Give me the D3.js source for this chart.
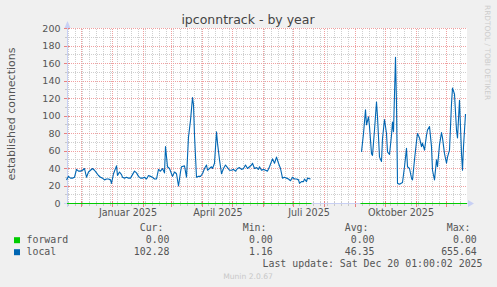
<!DOCTYPE html>
<html><head><meta charset="utf-8">
<script src="https://cdn.jsdelivr.net/npm/d3@7"></script>
<style>body{margin:0;background:#f0f0f0}svg{display:block}</style>
</head><body>
<script>
const title = "ipconntrack - by year";
const yLabel = "established connections";
const yTicks = [0, 20, 40, 60, 80, 100, 120, 140, 160, 180, 200];
const yMinorTicks = [10, 30, 50, 70, 90, 110, 130, 150, 170, 190];
const monthLabels = ["Januar 2025", "April 2025", "Juli 2025", "Oktober 2025"];
const monthLabelDates = ["2025-01-01", "2025-04-01", "2025-07-01", "2025-10-01"];

const dates = [
  "2024-11-16","2024-11-18","2024-11-20","2024-11-22","2024-11-24","2024-11-26","2024-11-28","2024-11-30",
  "2024-12-02","2024-12-04","2024-12-06","2024-12-08","2024-12-10","2024-12-12","2024-12-14","2024-12-16","2024-12-18","2024-12-20","2024-12-22","2024-12-24","2024-12-26","2024-12-28","2024-12-30","2024-12-31",
  "2025-01-02","2025-01-05","2025-01-06","2025-01-08","2025-01-10","2025-01-11","2025-01-13","2025-01-15","2025-01-17","2025-01-19","2025-01-21","2025-01-23","2025-01-25","2025-01-27","2025-01-29","2025-01-31",
  "2025-02-02","2025-02-04","2025-02-06","2025-02-08","2025-02-10","2025-02-12","2025-02-14","2025-02-16","2025-02-18","2025-02-20","2025-02-22","2025-02-23","2025-02-25","2025-02-27",
  "2025-03-01","2025-03-02","2025-03-04","2025-03-06","2025-03-08","2025-03-10","2025-03-11","2025-03-14","2025-03-16","2025-03-18","2025-03-20","2025-03-22","2025-03-23","2025-03-24","2025-03-26","2025-03-28","2025-03-30",
  "2025-04-01","2025-04-03","2025-04-05","2025-04-06","2025-04-08","2025-04-10","2025-04-11","2025-04-13","2025-04-15","2025-04-16","2025-04-18","2025-04-20","2025-04-22","2025-04-24","2025-04-26","2025-04-28","2025-04-30",
  "2025-05-02","2025-05-04","2025-05-06","2025-05-08","2025-05-10","2025-05-12","2025-05-14","2025-05-16","2025-05-18","2025-05-20","2025-05-21","2025-05-23","2025-05-25","2025-05-27","2025-05-28","2025-05-30",
  "2025-06-01","2025-06-03","2025-06-05","2025-06-07","2025-06-10","2025-06-12","2025-06-14","2025-06-16","2025-06-18","2025-06-20","2025-06-22","2025-06-24","2025-06-26","2025-06-28","2025-06-30",
  "2025-07-02","2025-07-04","2025-07-06","2025-07-07","2025-07-09","2025-07-11","2025-07-12","2025-07-14","2025-07-15","2025-07-18",
  "2025-08-12",
  "2025-09-07","2025-09-09","2025-09-11","2025-09-12","2025-09-14","2025-09-15","2025-09-17","2025-09-18","2025-09-20","2025-09-22","2025-09-23","2025-09-25","2025-09-27","2025-09-28","2025-09-30",
  "2025-10-02","2025-10-03","2025-10-05","2025-10-07","2025-10-08","2025-10-09","2025-10-11","2025-10-12","2025-10-13","2025-10-15","2025-10-18","2025-10-20","2025-10-22","2025-10-23","2025-10-25","2025-10-27","2025-10-28","2025-10-30",
  "2025-11-01","2025-11-02","2025-11-04","2025-11-06","2025-11-07","2025-11-09","2025-11-11","2025-11-12","2025-11-14","2025-11-16","2025-11-17","2025-11-19","2025-11-21","2025-11-22","2025-11-24","2025-11-26","2025-11-27","2025-11-29",
  "2025-12-01","2025-12-02","2025-12-04","2025-12-06","2025-12-07","2025-12-09","2025-12-11","2025-12-12","2025-12-14","2025-12-16","2025-12-17","2025-12-18","2025-12-20"
];
const local = [
  27,31,29,29,30,39,37,37,
  38,40,30,36,38,40,38,35,32,30,29,27,28,28,27,23,
  34,43,32,36,33,30,29,30,29,29,33,37,35,31,29,29,
  30,28,32,31,30,28,28,39,37,40,35,65,42,40,
  34,31,36,34,20,36,42,43,30,76,95,121,113,78,30,31,31,
  34,40,44,38,40,42,40,46,82,69,50,34,40,44,41,38,38,
  39,37,40,41,39,40,44,40,42,44,46,40,41,39,42,38,
  39,38,37,42,51,46,53,46,40,29,30,29,28,26,30,
  28,28,27,23,25,25,28,25,29,28,
  null,
  59,80,107,90,99,88,57,55,84,116,99,53,48,74,96,
  80,59,56,78,93,82,167,114,23,22,24,42,63,42,40,29,27,50,
  71,80,75,65,69,61,78,84,88,65,38,27,50,42,67,81,75,57,
  46,53,61,114,132,125,84,75,118,57,38,65,102.28
];
const forwardDates = ["2024-11-16T12:00Z", "2025-07-19", "2025-08-12", "2025-09-06", "2025-12-21T12:00Z"];
const forward = [0, 0, null, 0, 0];

const seriesNames = ["forward", "local"];
const curVals = ["0.00", "102.28"];
const minVals = ["0.00", "1.16"];
const avgVals = ["0.00", "46.35"];
const maxVals = ["0.00", "655.64"];
const lastUpdate = "Last update: Sat Dec 20 01:00:02 2025";
const version = "Munin 2.0.67";
const watermark = "RRDTOOL / TOBI OETIKER";

const W = 497, H = 287;
const colors = {forward: "#00cc00", local: "#0066b3"};
const svg = d3.select("body").append("svg").attr("width", W).attr("height", H);
svg.append("rect").attr("width", W).attr("height", H).attr("fill", "#f0f0f0");

const x = d3.scaleUtc().domain([new Date(Date.UTC(2024, 10, 16, 12)), new Date(Date.UTC(2025, 11, 21, 12))]).range([67, 467]);
const y = d3.scaleLinear().domain([0, 200]).range([203.5, 28.5]);
const [x0, x1] = x.range();

svg.append("rect").attr("x", x0).attr("y", 28).attr("width", x1 - x0).attr("height", 176).attr("fill", "#fff");

const sans = "DejaVu Sans, sans-serif", mono = "DejaVu Sans Mono, monospace";
const gridG = svg.append("g").attr("shape-rendering", "crispEdges");
const minorC = "#cfcfcf", majorC = "#f0a0a0";

// axis line (under grid)
const axisC = "#c8d0f4";
svg.append("line").attr("x1", x0 - 3).attr("x2", x1 + 3).attr("y1", y(0)).attr("y2", y(0)).attr("stroke", axisC).attr("shape-rendering", "crispEdges");

// minor vertical (weekly)
const weeks = d3.utcMonday.range(x.domain()[0], x.domain()[1]);
gridG.selectAll(".wk").data(weeks).join("line")
  .attr("x1", d => Math.round(x(d) - 0.5) + 0.5).attr("x2", d => Math.round(x(d) - 0.5) + 0.5)
  .attr("y1", y(200)).attr("y2", y(0)).attr("stroke", minorC).attr("stroke-dasharray", "1,1");
// minor horizontal
gridG.selectAll(".hm").data(yMinorTicks).join("line")
  .attr("x1", x0).attr("x2", x1).attr("y1", d => y(d)).attr("y2", d => y(d))
  .attr("stroke", minorC).attr("stroke-dasharray", "1,1");
// major vertical (monthly)
const months = d3.utcMonth.range(x.domain()[0], x.domain()[1]);
gridG.selectAll(".mo").data(months).join("line")
  .attr("x1", d => Math.round(x(d) - 0.5) + 0.5).attr("x2", d => Math.round(x(d) - 0.5) + 0.5)
  .attr("y1", y(200)).attr("y2", y(0)).attr("stroke", majorC).attr("stroke-dasharray", "1,1");
// major horizontal
gridG.selectAll(".hM").data(yTicks).join("line")
  .attr("x1", x0).attr("x2", x1).attr("y1", d => y(d)).attr("y2", d => y(d))
  .attr("stroke", majorC).attr("stroke-dasharray", "1,1");

// ticks on axes
gridG.selectAll(".wt").data(weeks).join("line")
  .attr("x1", d => Math.round(x(d) - 0.5) + 0.5).attr("x2", d => Math.round(x(d) - 0.5) + 0.5)
  .attr("y1", y(0) - 2).attr("y2", y(0) + 2).attr("stroke", "#c8c8c8");
gridG.selectAll(".mt").data(months).join("line")
  .attr("x1", d => Math.round(x(d) - 0.5) + 0.5).attr("x2", d => Math.round(x(d) - 0.5) + 0.5)
  .attr("y1", y(0) - 3).attr("y2", y(0) + 3).attr("stroke", "#e88080");
gridG.selectAll(".yt").data(yTicks).join("line")
  .attr("x1", x0 - 3).attr("x2", x0 + 3).attr("y1", d => y(d)).attr("y2", d => y(d)).attr("stroke", "#e88080");
gridG.selectAll(".ymt").data(yMinorTicks).join("line")
  .attr("x1", x0 - 2).attr("x2", x0 + 2).attr("y1", d => y(d)).attr("y2", d => y(d)).attr("stroke", "#c8c8c8");

// left axis line + arrows
svg.append("line").attr("x1", x0 + 0.5).attr("x2", x0 + 0.5).attr("y1", y(0) + 3).attr("y2", 24).attr("stroke", axisC).attr("shape-rendering", "crispEdges");
svg.append("path").attr("d", `M${x0 - 2.5},${28} L${x0 + 0.5},${21} L${x0 + 3.5},${28} Z`).attr("fill", axisC);
svg.append("path").attr("d", `M${x1 + 1},${y(0) - 3.5} L${x1 + 7},${y(0)} L${x1 + 1},${y(0) + 3.5} Z`).attr("fill", axisC);

// data lines
const parse = s => new Date(s.length > 10 ? s : s + "T00:00:00Z");
const fwdData = forwardDates.map((d, i) => ({d: parse(d), v: forward[i]}));
const locData = dates.map((d, i) => ({d: parse(d), v: local[i]}));
const line = d3.line().defined(p => p.v != null).x(p => x(p.d)).y(p => y(p.v));
svg.append("path").datum(fwdData).attr("d", line).attr("fill", "none").attr("stroke", colors.forward).attr("stroke-width", 1);
svg.append("path").datum(locData).attr("d", line).attr("fill", "none").attr("stroke", colors.local).attr("stroke-width", 1.1).attr("stroke-linejoin", "round");

// y tick labels
svg.selectAll(".yl").data(yTicks).join("text")
  .attr("x", 60.5).attr("y", d => y(d)).attr("dy", "0.36em").attr("text-anchor", "end")
  .attr("font-family", sans).attr("font-size", 9.5).attr("fill", "#555").text(d => d);
// x labels
svg.selectAll(".xl").data(monthLabels).join("text")
  .attr("x", (d, i) => x(new Date(+parse(monthLabelDates[i]) + 15.5 * 864e5)))
  .attr("y", 216.3).attr("text-anchor", "middle")
  .attr("font-family", sans).attr("font-size", 9.6).attr("fill", "#555").text(d => d);

// title
svg.append("text").attr("x", 248).attr("y", 23.5).attr("text-anchor", "middle")
  .attr("font-family", sans).attr("font-size", 12.5).attr("fill", "#444").text(title);
// y label
svg.append("text").attr("transform", "translate(11.5,114) rotate(-90)").attr("dy", "0.36em").attr("text-anchor", "middle")
  .attr("font-family", sans).attr("font-size", 11).attr("fill", "#555").text(yLabel);
// watermark
svg.append("text").attr("transform", "translate(484.5,5) rotate(90)").attr("text-anchor", "start")
  .attr("font-family", sans).attr("font-size", 7.4).attr("fill", "#cccccc").text(watermark);

// legend
const leg = svg.append("g").attr("font-family", mono).attr("font-size", 9.9).attr("fill", "#555");
const headers = [["Cur:", 163.5], ["Min:", 266.5], ["Avg:", 368.5], ["Max:", 470.5]];
headers.forEach(([t, xe]) => leg.append("text").attr("x", xe).attr("y", 231.3).attr("text-anchor", "end").text(t));
const cols = [[curVals, 169.5], [minVals, 272.8], [avgVals, 374.5], [maxVals, 476.8]];
seriesNames.forEach((name, i) => {
  const yy = 243.2 + i * 12;
  svg.append("rect").attr("x", 14).attr("y", yy - 6).attr("width", 6).attr("height", 6).attr("fill", colors[name]);
  leg.append("text").attr("x", 26.5).attr("y", yy).text(name);
  cols.forEach(([vals, xe]) => leg.append("text").attr("x", xe).attr("y", yy).attr("text-anchor", "end").text(vals[i]));
});
leg.append("text").attr("x", 482.5).attr("y", 267.2).attr("text-anchor", "end").text(lastUpdate);
svg.append("text").attr("x", 248).attr("y", 279.3).attr("text-anchor", "middle")
  .attr("font-family", sans).attr("font-size", 7.6).attr("fill", "#c8c8c8").text(version);
</script>
</body></html>
